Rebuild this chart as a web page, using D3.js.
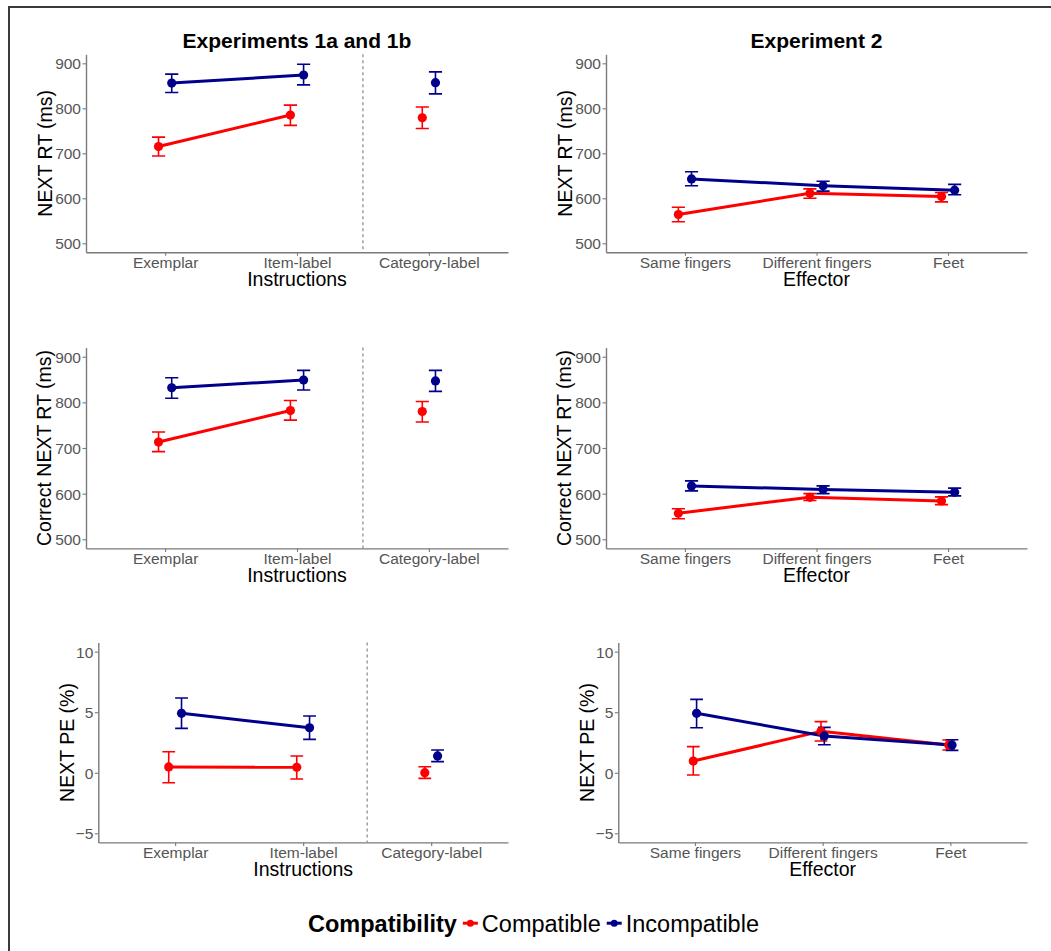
<!DOCTYPE html>
<html>
<head>
<meta charset="utf-8">
<script src="https://cdn.jsdelivr.net/npm/d3@7"></script>
<style>
  body { margin: 0; background: #fff; }
  svg { display: block; font-family: "Liberation Sans", Arial, sans-serif; }
</style>
</head>
<body>
<div id="chart"></div>
<script>
// Categories and tick labels
var instructions = ['Exemplar', 'Item-label', 'Category-label'];
var effectors = ['Same fingers', 'Different fingers', 'Feet'];
var groups = ['Compatible', 'Incompatible'];
var rtTicks = [500, 600, 700, 800, 900];
var peTicks = [-5, 0, 5, 10];

// Each row: [mean, lower, upper]
// Experiments 1a and 1b - NEXT RT
var exp1RtCompatible   = [[715, 694, 736], [785, 762, 807], [779, 755, 803]];
var exp1RtIncompatible = [[856, 835, 876], [874, 852, 898], [857, 832, 881]];
// Experiment 2 - NEXT RT
var exp2RtCompatible   = [[564, 548, 580], [611, 600, 621], [604, 592, 613]];
var exp2RtIncompatible = [[643, 628, 659], [628, 616, 638], [618, 608, 631]];
// Experiments 1a and 1b - Correct NEXT RT
var exp1CorrCompatible   = [[713, 692, 735], [782, 761, 804], [780, 757, 802]];
var exp1CorrIncompatible = [[832, 809, 854], [849, 827, 870], [847, 824, 870]];
// Experiment 2 - Correct NEXT RT
var exp2CorrCompatible   = [[557, 545, 567], [592, 585, 600], [584, 576, 593]];
var exp2CorrIncompatible = [[617, 606, 628], [609, 600, 617], [603, 595, 612]];
// Experiments 1a and 1b - NEXT PE
var exp1PeCompatible   = [[0.48, -0.82, 1.74], [0.45, -0.51, 1.39], [0.01, -0.46, 0.50]];
var exp1PeIncompatible = [[4.91, 3.67, 6.17], [3.72, 2.76, 4.69], [1.39, 0.92, 1.88]];
// Experiment 2 - NEXT PE
var exp2PeCompatible   = [[0.97, -0.18, 2.16], [3.42, 2.63, 4.22], [2.29, 1.88, 2.71]];
var exp2PeIncompatible = [[4.91, 3.72, 6.06], [3.04, 2.32, 3.75], [2.29, 1.85, 2.73]];

var colors = ['#ff0000', '#00008b'];

var svg = d3.select('#chart')
            .append('svg')
            .attr('width', 1051)
            .attr('height', 951);

// Outer frame (left and top edges only)
svg.append('path')
   .attr('d', 'M9,951 V7 H1051')
   .attr('fill', 'none')
   .attr('stroke', '#3a3a3a')
   .attr('stroke-width', 2);

// Panel setup
var panels = [
  { left: 86, right: 508, top: 54.3, bottom: 252.3, cats: instructions, ticks: rtTicks,
    series: [exp1RtCompatible, exp1RtIncompatible], yTitle: 'NEXT RT (ms)', xTitle: 'Instructions',
    connect: 2, divider: true, dodge: 0.05, title: 'Experiments 1a and 1b', yTitleX: 45 },
  { left: 606, right: 1027, top: 54.3, bottom: 252.3, cats: effectors, ticks: rtTicks,
    series: [exp2RtCompatible, exp2RtIncompatible], yTitle: 'NEXT RT (ms)', xTitle: 'Effector',
    connect: 3, divider: false, dodge: 0.05, title: 'Experiment 2', yTitleX: 565 },
  { left: 86, right: 508, top: 347.6, bottom: 548.4, cats: instructions, ticks: rtTicks,
    series: [exp1CorrCompatible, exp1CorrIncompatible], yTitle: 'Correct NEXT RT (ms)', xTitle: 'Instructions',
    connect: 2, divider: true, dodge: 0.05, yTitleX: 44 },
  { left: 606, right: 1027, top: 347.6, bottom: 548.4, cats: effectors, ticks: rtTicks,
    series: [exp2CorrCompatible, exp2CorrIncompatible], yTitle: 'Correct NEXT RT (ms)', xTitle: 'Effector',
    connect: 3, divider: false, dodge: 0.05, yTitleX: 564 },
  { left: 98.3, right: 508, top: 642.6, bottom: 842.4, cats: instructions, ticks: peTicks,
    series: [exp1PeCompatible, exp1PeIncompatible], yTitle: 'NEXT PE (%)', xTitle: 'Instructions',
    connect: 2, divider: true, dodge: 0.05, yTitleX: 66.7 },
  { left: 618.3, right: 1027, top: 642.6, bottom: 842.4, cats: effectors, ticks: peTicks,
    series: [exp2PeCompatible, exp2PeIncompatible], yTitle: 'NEXT PE (%)', xTitle: 'Effector',
    connect: 3, divider: false, dodge: 0.013, yTitleX: 586.7 }
];

panels.forEach(function(p) {
  var w = p.right - p.left,
      h = p.bottom - p.top;

  var g = svg.append('g')
             .attr('transform', 'translate(' + p.left + ',' + p.top + ')');

  // ggplot style 5% expansion on y, 0.6 on discrete x
  var lo = d3.min(p.ticks), hi = d3.max(p.ticks), pad = (hi - lo) * 0.05;
  var y = d3.scaleLinear().domain([lo - pad, hi + pad]).range([h, 0]);
  var x = d3.scalePoint().domain(p.cats).range([0, w]).padding(0.6);
  var step = x.step();

  // Axes
  var x_axis = d3.axisBottom(x).tickSizeOuter(0).tickSizeInner(3.5).tickPadding(2);
  var y_axis = d3.axisLeft(y).tickValues(p.ticks).tickSizeOuter(0).tickSizeInner(3.5).tickPadding(1.5);

  var gx = g.append('g')
            .attr('transform', 'translate(0,' + h + ')')
            .call(x_axis);
  var gy = g.append('g').call(y_axis);

  [gx, gy].forEach(function(ax) {
    ax.select('.domain').attr('stroke', '#7a7a7a').attr('stroke-width', 1.4);
    ax.selectAll('.tick line').attr('stroke', '#7a7a7a').attr('stroke-width', 1.1);
    ax.selectAll('.tick text')
      .attr('fill', '#555')
      .style('font-size', '15.5px')
      .style('font-family', '"Liberation Sans", Arial, sans-serif');
  });
  gx.selectAll('.tick text').attr('y', 10).attr('dy', '0.35em');
  gy.selectAll('.tick text').attr('dy', '0.35em');

  // Dashed divider between item conditions and category-label
  if (p.divider) {
    var xd = (x(p.cats[1]) + x(p.cats[2])) / 2;
    g.append('line')
     .attr('x1', xd).attr('x2', xd)
     .attr('y1', 0).attr('y2', h)
     .attr('stroke', '#888')
     .attr('stroke-width', 1.2)
     .attr('stroke-dasharray', '3,3');
  }

  var xPos = function(i, s) {
    return x(p.cats[i]) + (s === 0 ? -1 : 1) * p.dodge * step;
  };

  // Error bars
  p.series.forEach(function(data, s) {
    data.forEach(function(d, i) {
      var cx = xPos(i, s), hw = 0.05 * step;
      g.append('path')
       .attr('d', 'M' + (cx - hw) + ',' + y(d[2]) + 'H' + (cx + hw) +
                  'M' + cx + ',' + y(d[2]) + 'V' + y(d[1]) +
                  'M' + (cx - hw) + ',' + y(d[1]) + 'H' + (cx + hw))
       .attr('fill', 'none')
       .attr('stroke', colors[s])
       .attr('stroke-width', 1.6);
    });
  });

  // Lines
  p.series.forEach(function(data, s) {
    var line = d3.line()
                 .x(function(d, i) { return xPos(i, s); })
                 .y(function(d) { return y(d[0]); });
    g.append('path')
     .attr('d', line(data.slice(0, p.connect)))
     .attr('fill', 'none')
     .attr('stroke', colors[s])
     .attr('stroke-width', 3)
     .attr('stroke-linejoin', 'round');
  });

  // Points
  p.series.forEach(function(data, s) {
    g.selectAll(null)
     .data(data)
     .enter()
     .append('circle')
     .attr('cx', function(d, i) { return xPos(i, s); })
     .attr('cy', function(d) { return y(d[0]); })
     .attr('r', 4.6)
     .attr('fill', colors[s]);
  });

  // Axis titles
  g.append('text')
   .attr('x', w / 2)
   .attr('y', h + 27)
   .attr('dy', '0.35em')
   .attr('text-anchor', 'middle')
   .style('font-size', '19.5px')
   .text(p.xTitle);

  svg.append('text')
     .attr('transform', 'translate(' + p.yTitleX + ',' + (p.top + h / 2) + ') rotate(-90)')
     .attr('dy', '0.35em')
     .attr('text-anchor', 'middle')
     .style('font-size', '19.5px')
     .text(p.yTitle);

  if (p.title) {
    g.append('text')
     .attr('x', w / 2)
     .attr('y', 40.7 - p.top)
     .attr('dy', '0.35em')
     .attr('text-anchor', 'middle')
     .style('font-size', '21px')
     .style('font-weight', 'bold')
     .text(p.title);
  }
});

// Legend
var legend = svg.append('g').attr('transform', 'translate(308,931.5)');
var lx = 0;
var lt = legend.append('text')
               .attr('x', lx)
               .style('font-size', '23.5px')
               .style('font-weight', 'bold')
               .text('Compatibility');
lx += lt.node().getComputedTextLength() + 6;

groups.forEach(function(name, s) {
  legend.append('line')
        .attr('x1', lx).attr('x2', lx + 15)
        .attr('y1', -8.3).attr('y2', -8.3)
        .attr('stroke', colors[s])
        .attr('stroke-width', 3);
  legend.append('circle')
        .attr('cx', lx + 7.5)
        .attr('cy', -8.3)
        .attr('r', 3.5)
        .attr('fill', colors[s]);
  lx += 19;
  var t = legend.append('text')
                .attr('x', lx)
                .style('font-size', '23.5px')
                .text(name);
  lx += t.node().getComputedTextLength() + 6;
});
</script>
</body>
</html>
